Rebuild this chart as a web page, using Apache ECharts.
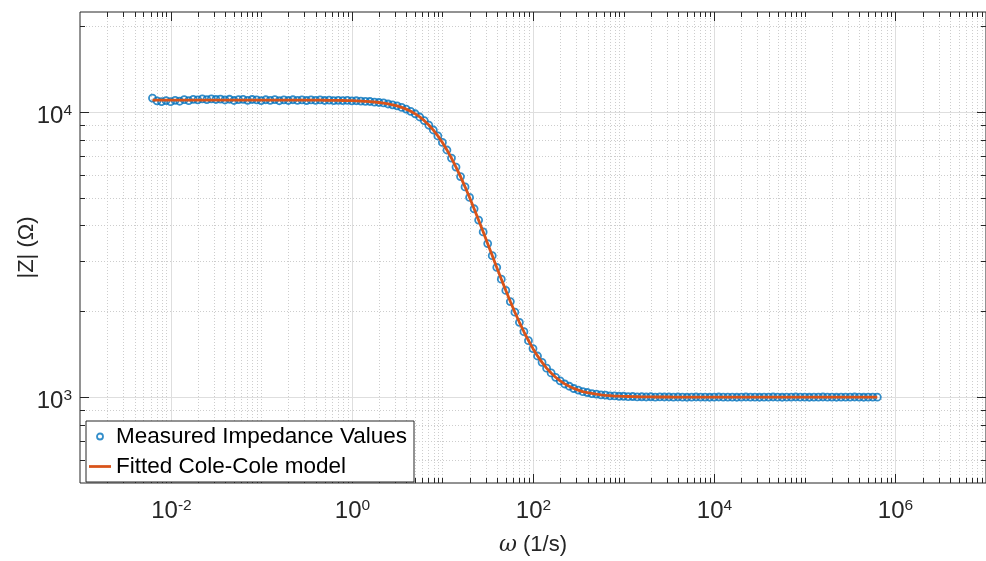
<!DOCTYPE html>
<html><head><meta charset="utf-8">
<script src="https://cdn.jsdelivr.net/npm/echarts@6/dist/echarts.min.js"></script>
<style>html,body{margin:0;padding:0;background:#fff}#c{width:986px;height:561px}</style>
</head><body><div id="c"></div>
<script>
// ---- data ----
const omega = [
  6.310e-3, 7.079e-3, 7.943e-3, 8.913e-3,
  1.000e-2, 1.122e-2, 1.259e-2, 1.413e-2, 1.585e-2, 1.778e-2, 1.995e-2, 2.239e-2, 2.512e-2, 2.818e-2,
  3.162e-2, 3.548e-2, 3.981e-2, 4.467e-2, 5.012e-2, 5.623e-2, 6.310e-2, 7.079e-2, 7.943e-2, 8.913e-2,
  1.000e-1, 1.122e-1, 1.259e-1, 1.413e-1, 1.585e-1, 1.778e-1, 1.995e-1, 2.239e-1, 2.512e-1, 2.818e-1,
  3.162e-1, 3.548e-1, 3.981e-1, 4.467e-1, 5.012e-1, 5.623e-1, 6.310e-1, 7.079e-1, 7.943e-1, 8.913e-1,
  1.000e0, 1.122e0, 1.259e0, 1.413e0, 1.585e0, 1.778e0, 1.995e0, 2.239e0, 2.512e0, 2.818e0,
  3.162e0, 3.548e0, 3.981e0, 4.467e0, 5.012e0, 5.623e0, 6.310e0, 7.079e0, 7.943e0, 8.913e0,
  1.000e1, 1.122e1, 1.259e1, 1.413e1, 1.585e1, 1.778e1, 1.995e1, 2.239e1, 2.512e1, 2.818e1,
  3.162e1, 3.548e1, 3.981e1, 4.467e1, 5.012e1, 5.623e1, 6.310e1, 7.079e1, 7.943e1, 8.913e1,
  1.000e2, 1.122e2, 1.259e2, 1.413e2, 1.585e2, 1.778e2, 1.995e2, 2.239e2, 2.512e2, 2.818e2,
  3.162e2, 3.548e2, 3.981e2, 4.467e2, 5.012e2, 5.623e2, 6.310e2, 7.079e2, 7.943e2, 8.913e2,
  1.000e3, 1.122e3, 1.259e3, 1.413e3, 1.585e3, 1.778e3, 1.995e3, 2.239e3, 2.512e3, 2.818e3,
  3.162e3, 3.548e3, 3.981e3, 4.467e3, 5.012e3, 5.623e3, 6.310e3, 7.079e3, 7.943e3, 8.913e3,
  1.000e4, 1.122e4, 1.259e4, 1.413e4, 1.585e4, 1.778e4, 1.995e4, 2.239e4, 2.512e4, 2.818e4,
  3.162e4, 3.548e4, 3.981e4, 4.467e4, 5.012e4, 5.623e4, 6.310e4, 7.079e4, 7.943e4, 8.913e4,
  1.000e5, 1.122e5, 1.259e5, 1.413e5, 1.585e5, 1.778e5, 1.995e5, 2.239e5, 2.512e5, 2.818e5,
  3.162e5, 3.548e5, 3.981e5, 4.467e5, 5.012e5, 5.623e5, 6.310e5
];
const zMeasured = [
  11180, 10935, 10870, 10955, 10860, 10980, 10900, 11035, 10945, 11065,
  11020, 11100, 11045, 11110, 11055, 11090, 11010, 11075, 10965, 11045,
  11065, 10980, 11055, 11020, 10955,
  11030, 10977, 11043, 10944, 11020, 10965, 11030, 10975, 11018,
  10962, 11015, 10980, 11011, 10964, 10994, 10956, 10984, 10955, 10967,
  10935, 10943, 10915, 10882, 10877, 10821, 10789, 10748, 10660, 10591,
  10500, 10365, 10232, 10047, 9850, 9596, 9322, 8993, 8640, 8236,
  7814, 7352, 6889, 6405, 5933, 5459, 5012, 4575, 4176, 3795,
  3453, 3133, 2852, 2592, 2366, 2162, 1986, 1829, 1696, 1578,
  1480, 1394, 1325, 1263, 1216, 1173, 1141, 1112, 1092, 1072,
  1059, 1045, 1038, 1029, 1025, 1018, 1016, 1011, 1010, 1007,
  1007, 1004, 1005, 1002, 1003, 1001, 1003, 1000, 1002, 1001, 1001,
  1000, 1001, 1000, 999, 1000, 1001, 1000, 1000, 999, 1000,
  1001, 1000, 1000, 1000, 999, 1000, 1001, 1000, 1000, 999,
  1000, 1000, 1001, 1000, 999, 1000, 1000, 1001, 1000, 1000,
  999, 1000, 1000, 1001, 1000, 1000, 999, 1000, 1000, 1000,
  1001, 1000, 999, 1000, 1000, 1000
];
const zFitted = [
  11000, 11000, 11000, 11000, 11000, 11000, 11000, 11000, 11000, 11000,
  11000, 11000, 11000, 11000, 11000, 11000, 11000, 11000, 11000, 11000,
  11000, 11000, 11000, 11000, 11000,
  10999, 10999, 10999, 10999, 10998, 10998, 10997, 10997, 10996,
  10995, 10993, 10991, 10989, 10986, 10983, 10978, 10973, 10966, 10957,
  10946, 10932, 10915, 10893, 10866, 10832, 10789, 10737, 10671, 10591,
  10492, 10372, 10227, 10052, 9844, 9601, 9318, 8997, 8636, 8239,
  7810, 7357, 6886, 6408, 5930, 5462, 5009, 4578, 4173, 3797,
  3451, 3135, 2850, 2594, 2365, 2163, 1985, 1830, 1695, 1579,
  1479, 1395, 1324, 1264, 1215, 1174, 1140, 1113, 1091, 1073,
  1058, 1046, 1037, 1030, 1024, 1019, 1015, 1012, 1009, 1008,
  1006, 1005, 1004, 1003, 1002, 1002, 1002, 1001, 1001, 1001, 1001,
  1000, 1000, 1000, 1000, 1000, 1000, 1000, 1000, 1000, 1000,
  1000, 1000, 1000, 1000, 1000, 1000, 1000, 1000, 1000, 1000,
  1000, 1000, 1000, 1000, 1000, 1000, 1000, 1000, 1000, 1000,
  1000, 1000, 1000, 1000, 1000, 1000, 1000, 1000, 1000, 1000,
  1000, 1000, 1000, 1000, 1000, 1000
];
const xLimits = [1e-3, 1e7];
const yLimits = [500, 22400];
const xLabelExponents = [-2, 0, 2, 4, 6];
const yLabelExponents = [3, 4];
const seriesNames = ['Measured Impedance Values', 'Fitted Cole-Cole model'];
const xTitle = '{i|ω} (1/s)';
const yTitle = '|Z| (Ω)';

// ---- styling ----
const FONT = '"Liberation Sans", Arial, Helvetica, sans-serif';
const AX = '#262626';
const BLUE = '#0072BD';
const ORANGE = '#D95319';
const MAJOR_TICK = 9, MINOR_TICK = 5;

const labelRich = {
  b: { fontSize: 24, fontFamily: FONT, fill: AX, lineHeight: 27 },
  s: { fontSize: 15.5, fontFamily: FONT, fill: AX, lineHeight: 15, verticalAlign: 'top' }
};

function renderFrame(params, api) {
  const lb = api.coord([xLimits[0], yLimits[0]]);
  const rt = api.coord([xLimits[1], yLimits[1]]);
  const L = lb[0], B = lb[1], R = rt[0], T = rt[1];
  const kids = [];
  const snap = v => Math.round(v) + 0.5;
  const minorGrid = { stroke: '#cdcdcd', lineWidth: 1, lineDash: [1, 2] };
  const majorGrid = { stroke: '#dedede', lineWidth: 1 };
  const tick = { stroke: AX, lineWidth: 1 };
  const line = (x1, y1, x2, y2, style) => kids.push({ type: 'line', shape: { x1, y1, x2, y2 }, style });

  const ex0 = Math.floor(Math.log10(xLimits[0])), ex1 = Math.ceil(Math.log10(xLimits[1]));
  for (let e = ex0; e <= ex1; e++) {
    for (let k = 1; k <= 9; k++) {
      const v = k * Math.pow(10, e);
      if (v <= xLimits[0] * 1.0001 || v >= xLimits[1] * 0.9999) continue;
      const x = snap(api.coord([v, yLimits[0]])[0]);
      const major = k === 1 && xLabelExponents.indexOf(e) >= 0;
      line(x, T, x, B, major ? majorGrid : minorGrid);
      const len = major ? MAJOR_TICK : MINOR_TICK;
      line(x, B, x, B - len, tick);
      line(x, T, x, T + len, tick);
      if (major) {
        kids.push({ type: 'text', x: x, y: B + 15,
          style: { text: '{b|10}{s|' + e + '}', rich: labelRich, align: 'center', verticalAlign: 'top', fill: AX } });
      }
    }
  }
  const ey0 = Math.floor(Math.log10(yLimits[0])), ey1 = Math.ceil(Math.log10(yLimits[1]));
  for (let e = ey0; e <= ey1; e++) {
    for (let k = 1; k <= 9; k++) {
      const v = k * Math.pow(10, e);
      if (v <= yLimits[0] * 1.0001 || v >= yLimits[1] * 0.9999) continue;
      const y = snap(api.coord([xLimits[0], v])[1]);
      const major = k === 1 && yLabelExponents.indexOf(e) >= 0;
      line(L, y, R, y, major ? majorGrid : minorGrid);
      const len = major ? MAJOR_TICK : MINOR_TICK;
      line(L, y, L + len, y, tick);
      line(R, y, R - len, y, tick);
      if (major) {
        kids.push({ type: 'text', x: L - 8, y: y + 4,
          style: { text: '{b|10}{s|' + e + '}', rich: labelRich, align: 'right', verticalAlign: 'middle', fill: AX } });
      }
    }
  }
  return { type: 'group', children: kids };
}

const chart = echarts.init(document.getElementById('c'), null, { renderer: 'canvas' });
chart.setOption({
  animation: false,
  backgroundColor: '#fff',
  grid: { left: 80, top: 12, width: 915, height: 475, show: true, borderColor: AX, borderWidth: 1, backgroundColor: '#fff' },
  xAxis: {
    type: 'log', logBase: 10, min: xLimits[0], max: xLimits[1],
    axisLine: { show: false }, axisTick: { show: false }, splitLine: { show: false }, axisLabel: { show: false },
    name: xTitle, nameLocation: 'middle', nameGap: 51,
    nameTextStyle: { fontSize: 22, color: AX, fontFamily: FONT,
      rich: { i: { fontStyle: 'italic', fontSize: 22, fontFamily: '"DejaVu Serif", serif', color: AX } } }
  },
  yAxis: {
    type: 'log', logBase: 10, min: yLimits[0], max: yLimits[1],
    axisLine: { show: false }, axisTick: { show: false }, splitLine: { show: false }, axisLabel: { show: false },
    name: yTitle, nameLocation: 'middle', nameRotate: 90, nameGap: 42,
    nameTextStyle: { fontSize: 22, color: AX, fontFamily: FONT }
  },
  legend: {
    left: 86, top: 421, orient: 'vertical',
    backgroundColor: '#fff', borderColor: AX, borderWidth: 1, borderRadius: 0,
    padding: [4, 7, 4, 3], itemGap: 7, itemWidth: 22, itemHeight: 6,
    textStyle: { fontSize: 22.5, color: '#000', fontFamily: FONT },
    data: [
      { name: seriesNames[0], icon: 'circle', itemStyle: { color: '#fff', borderColor: BLUE, borderWidth: 1.8 } },
      { name: seriesNames[1], icon: 'path://M0,0L40,0L40,5L0,5Z', itemStyle: { color: ORANGE, borderWidth: 0 } }
    ]
  },
  series: [
    { type: 'custom', name: 'frame', coordinateSystem: 'cartesian2d', silent: true, z: 1,
      renderItem: renderFrame, data: [[xLimits[0], yLimits[0]]] },
    { type: 'scatter', name: seriesNames[0], z: 3,
      data: omega.map((w, i) => [w, zMeasured[i]]),
      symbol: 'circle', symbolSize: 7,
      itemStyle: { color: 'rgba(0,0,0,0)', borderColor: BLUE, borderWidth: 1.8 } },
    { type: 'line', name: seriesNames[1], z: 4,
      data: omega.map((w, i) => [w, zFitted[i]]),
      symbol: 'none', lineStyle: { color: ORANGE, width: 2.8 }, itemStyle: { color: ORANGE } }
  ]
});
</script></body></html>
